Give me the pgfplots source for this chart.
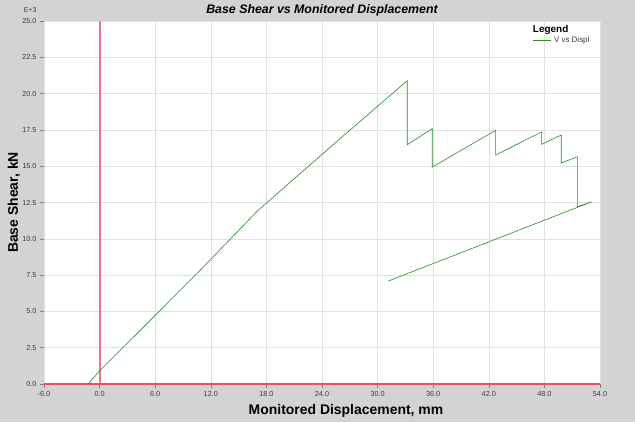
\documentclass[border=0pt]{standalone}
\usepackage{fontspec}
\setmainfont{Liberation Sans}
\usepackage{pgfplots}
\pgfplotsset{compat=1.18}
\definecolor{bggray}{RGB}{211,211,211}
\definecolor{gridgray}{RGB}{224,224,224}
\definecolor{refred}{RGB}{232,80,100}
\definecolor{refpink}{RGB}{234,120,140}
\definecolor{curvegreen}{RGB}{40,140,40}
\definecolor{ticktext}{RGB}{60,60,60}
\begin{document}
\begin{tikzpicture}[x=1bp,y=1bp]
\fill[bggray] (-44,-38) rectangle (591,384);
\begin{axis}[
  at={(0,0)}, anchor=south west,
  scale only axis, width=556bp, height=363bp,
  xmin=-6, xmax=54, ymin=0, ymax=25,
  xtick={-6,0,...,54}, ytick={0,2.5,...,25},
  axis background/.style={fill=white},
  axis line style={draw=none},
  tick pos=left, tick align=outside, major tick length=4bp,
  tick style={gray, line width=0.5bp},
  grid=major, grid style={gridgray, line width=0.6bp},
  xticklabel style={/pgf/number format/.cd, fixed, fixed zerofill, precision=1, assume math mode=true},
  yticklabel style={/pgf/number format/.cd, fixed, fixed zerofill, precision=1, assume math mode=true},
  ticklabel style={font=\fontsize{7.3}{8}\selectfont, text=ticktext},
  scaled ticks=false,
  xlabel={Monitored Displacement, mm},
  ylabel={Base Shear, kN},
  every axis x label/.style={at={(rel axis cs:0.5,0)}, xshift=24bp, yshift=-27bp, anchor=center, font=\bfseries\fontsize{14}{16}\selectfont},
  every axis y label/.style={at={(rel axis cs:0,0.5)}, xshift=-30bp, rotate=90, anchor=center, font=\bfseries\fontsize{14}{16}\selectfont},
  title={Base Shear vs Monitored Displacement},
  every axis title/.style={at={(rel axis cs:0.5,1)}, yshift=11bp, anchor=center, font=\bfseries\itshape\fontsize{12.4}{14}\selectfont},
  legend style={at={(axis description cs:0.879,0.962)}, anchor=north west, draw=none, fill=none, inner sep=0pt, font=\fontsize{8}{9}\selectfont, text=ticktext, nodes={inner xsep=2.5bp}},
  legend image code/.code={\draw[#1] (0bp,0bp)--(18bp,0bp);},
  clip=false,
]
\addplot[color=refpink, line width=2.2bp, forget plot] coordinates {(0,0) (0,25)};
\addplot[color=refred, line width=1.2bp, forget plot] coordinates {(-6,0) (54,0)};
\addplot[curvegreen, line width=0.6bp] coordinates {
(-1.25,0) (0,0.9) (6.4,4.98) (10.8,7.8) (17.0,11.9) (25.9,16.87) (33.2,20.89)
(33.2,16.48) (35.9,17.59) (35.9,14.94) (42.74,17.47) (42.74,15.77)
(47.7,17.36) (47.7,16.5) (49.82,17.15) (49.82,15.22) (51.55,15.65)
(51.55,12.21) (53.1,12.55) (31.15,7.09)
};
\addlegendentry{V vs Displ}
\node[anchor=west, font=\bfseries\fontsize{10}{11}\selectfont, inner sep=0pt] at (axis description cs:0.879,0.975) {Legend};
\node[font=\fontsize{7}{8}\selectfont, text=ticktext, inner sep=0pt] at (axis description cs:-0.025,1.03) {E+3};
\end{axis}
\pgfresetboundingbox
\path (-44,-38) rectangle (591,384);
\end{tikzpicture}
\end{document}
